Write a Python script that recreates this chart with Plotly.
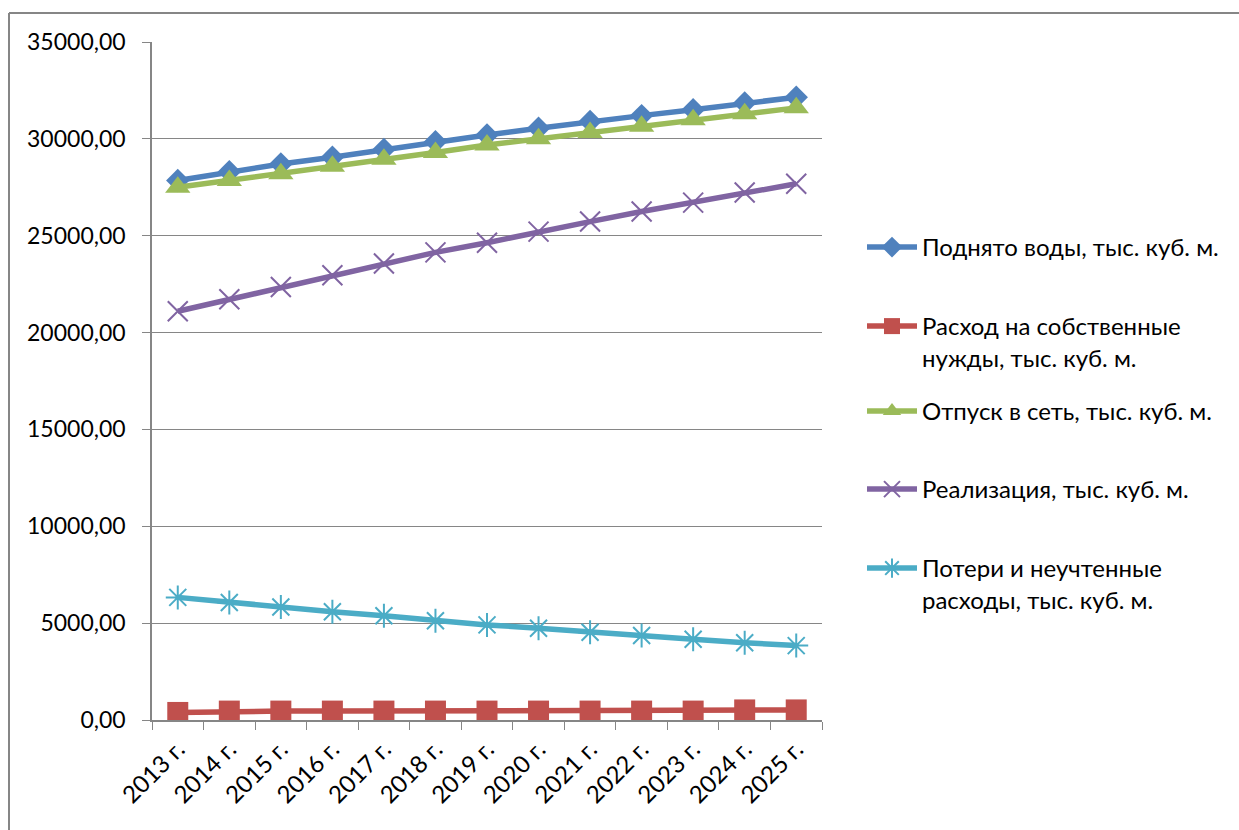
import plotly.graph_objects as go

years = ['2013 г.', '2014 г.', '2015 г.', '2016 г.', '2017 г.', '2018 г.', '2019 г.',
         '2020 г.', '2021 г.', '2022 г.', '2023 г.', '2024 г.', '2025 г.']

raised = [27850, 28300, 28700, 29050, 29450, 29850, 30200, 30550, 30900, 31200, 31500, 31850, 32150]
own_needs = [390, 460, 460, 460, 460, 460, 460, 460, 460, 460, 460, 520, 520]
to_network = [27500, 27850, 28200, 28580, 28950, 29300, 29680, 30000, 30330, 30650, 30980, 31300, 31600]
sold = [21100, 21720, 22350, 22960, 23570, 24140, 24640, 25210, 25730, 26250, 26710, 27230, 27680]
losses = [6330, 6070, 5830, 5590, 5380, 5120, 4910, 4740, 4530, 4360, 4170, 3990, 3840]

names = ['Поднято воды, тыс. куб. м.',
         'Расход на собственные<br>нужды, тыс. куб. м.',
         'Отпуск в сеть, тыс. куб. м.',
         'Реализация, тыс. куб. м.',
         'Потери и неучтенные<br>расходы, тыс. куб. м.']

W, H = 1239, 830
L, R, T, B = 152, 417, 42, 110
pw, ph = W - L - R, H - T - B

def px_x(p):
    return (p - L) / pw

def px_y(p):
    return (H - B - p) / ph

fig = go.Figure()

styles = [
    ('#4F81BD', dict(symbol='diamond', size=18)),
    ('#C0504D', dict(symbol='square', size=21)),
    ('#9BBB59', dict(symbol='triangle-up', size=22)),
    ('#8064A2', dict(symbol='x-thin-open', size=20, line=dict(width=2, color='#8064A2'))),
    ('#4BACC6', dict(symbol='asterisk-open', size=20, line=dict(width=2, color='#4BACC6'))),
]

# first-line pixel centre of each legend entry in the reference
legend_px = [248, 327, 412, 490, 569]
legend_ids = ['legend', 'legend2', 'legend3', 'legend4', 'legend5']

series = [raised, own_needs, to_network, sold, losses]
for vals, name, (col, mk), lid in zip(series, names, styles, legend_ids):
    mk = dict(mk)
    mk['color'] = col
    fig.add_trace(go.Scatter(
        x=years, y=vals, name=name, mode='lines+markers',
        line=dict(color=col, width=5.5),
        marker=mk,
        legend=lid,
    ))

legends = {}
for lid, p in zip(legend_ids, legend_px):
    legends[lid] = dict(
        x=px_x(862), y=px_y(p - 23), xanchor='left', yanchor='top',
        font=dict(size=24), bgcolor='rgba(0,0,0,0)', valign='top',
        itemwidth=50,
    )

fig.update_layout(
    width=W, height=H,
    margin=dict(l=L, r=R, t=T, b=B),
    paper_bgcolor='white', plot_bgcolor='white',
    separators=', ',
    font=dict(family='Lato, Noto Sans, sans-serif', size=22, color='black'),
    showlegend=True,
    xaxis=dict(
        type='category', range=[-0.5, 12.5], tickson='boundaries', ticks='outside', ticklen=8,
        tickcolor='#868686', showline=True, linecolor='#868686', linewidth=1.5,
        showgrid=False, tickangle=-45, tickfont=dict(size=24), ticklabelstandoff=4,
    ),
    yaxis=dict(
        range=[0, 35000], dtick=5000, tickformat='.2f',
        showgrid=True, gridcolor='#868686', gridwidth=1.2,
        ticks='outside', ticklen=8, tickcolor='#868686',
        showline=True, linecolor='#868686', linewidth=1.5,
        zeroline=False, tickfont=dict(size=23), ticklabelstandoff=12,
    ),
    shapes=[
        dict(type='line', xref='paper', yref='paper', x0=px_x(9), x1=px_x(W + 20),
             y0=px_y(13), y1=px_y(13), line=dict(color='#868686', width=2)),
        dict(type='line', xref='paper', yref='paper', x0=px_x(9), x1=px_x(9),
             y0=px_y(13), y1=px_y(H + 20), line=dict(color='#868686', width=2)),
    ],
    **legends,
)

fig.write_html("out.html", config={'displayModeBar': False},
               post_script="document.body.style.margin='0';")
